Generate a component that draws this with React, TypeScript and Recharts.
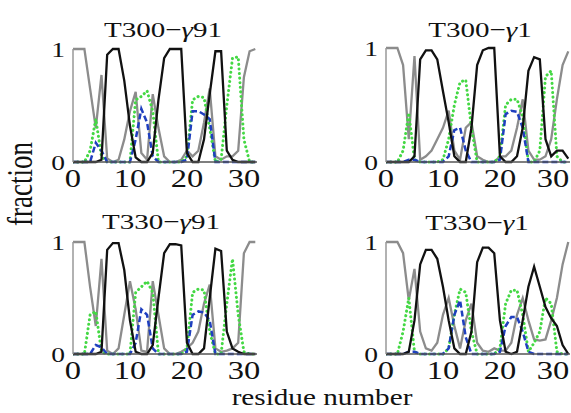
import { Line, LineChart, XAxis, YAxis } from "recharts";

// residue index along the chain
const RESIDUES = [
  0, 1, 2, 3, 4, 5, 6, 7, 8, 9, 10, 11, 12, 13, 14, 15, 16, 17, 18, 19, 20,
  21, 22, 23, 24, 25, 26, 27, 28, 29, 30, 31, 32,
];

const X_TICKS = [0, 10, 20, 30];
const Y_TICKS = [0, 1];

// T300-γ91
const P1_BLACK = [0, 0, 0, 0, 0, 0.02, 0.95, 1, 1, 0.72, 0.32, 0.04, 0, 0, 0.08, 0.55, 0.92, 1, 1, 1, 0.08, 0, 0, 0.2, 0.6, 0.98, 0.98, 0.1, 0.02, 0, 0, 0, 0];
const P1_GRAY = [1, 1, 1, 0.65, 0.3, 0.77, 0.03, 0, 0.02, 0.2, 0.45, 0.62, 0.08, 0.02, 0.6, 0.3, 0.05, 0, 0, 0.02, 0.1, 0.05, 0.1, 0.35, 0.65, 0.05, 0.02, 0.05, 0.05, 0.1, 0.75, 0.98, 1];
const P1_GREEN = [0, 0, 0, 0.1, 0.38, 0.05, 0, 0, 0, 0, 0, 0.55, 0.58, 0.63, 0.45, 0, 0, 0, 0, 0, 0.05, 0.55, 0.58, 0.57, 0.3, 0, 0.02, 0.5, 0.92, 0.93, 0.2, 0, 0];
const P1_BLUE = [0, 0, 0, 0, 0.17, 0.1, 0, 0, 0, 0, 0, 0.2, 0.47, 0.35, 0.05, 0, 0, 0, 0, 0, 0.02, 0.45, 0.45, 0.42, 0.38, 0, 0, 0, 0, 0, 0, 0, 0];

// T300-γ1
const P2_BLACK = [0, 0, 0, 0, 0, 0.05, 0.9, 0.98, 0.98, 0.9, 0.62, 0.35, 0.05, 0, 0, 0.3, 0.85, 0.98, 1, 1, 0.05, 0, 0, 0.05, 0.3, 0.8, 0.92, 0.9, 0.2, 0.05, 0.1, 0.1, 0.03];
const P2_GRAY = [1, 1, 1, 0.85, 0.2, 0.93, 0.02, 0.05, 0.1, 0.2, 0.3, 0.45, 0.1, 0.02, 0.3, 0.35, 0.05, 0.02, 0, 0, 0.05, 0.05, 0.1, 0.3, 0.55, 0.1, 0.02, 0.02, 0.05, 0.2, 0.55, 0.85, 0.97];
const P2_GREEN = [0, 0, 0, 0.1, 0.43, 0.02, 0, 0, 0, 0, 0.02, 0.2, 0.5, 0.7, 0.72, 0.3, 0, 0, 0, 0, 0.05, 0.5, 0.55, 0.55, 0.4, 0, 0, 0.1, 0.75, 0.8, 0.05, 0, 0];
const P2_BLUE = [0, 0, 0, 0, 0.02, 0.02, 0, 0, 0, 0, 0, 0.05, 0.28, 0.3, 0.1, 0, 0, 0, 0, 0, 0.02, 0.42, 0.45, 0.44, 0.3, 0, 0, 0, 0, 0, 0, 0, 0];

// T330-γ91
const P3_BLACK = [0, 0, 0, 0, 0, 0.02, 0.93, 0.99, 0.99, 0.75, 0.3, 0.02, 0, 0, 0.08, 0.5, 0.9, 0.98, 0.98, 0.97, 0.1, 0, 0, 0.05, 0.5, 0.94, 0.92, 0.2, 0.05, 0.02, 0, 0, 0];
const P3_GRAY = [1, 1, 1, 0.6, 0.25, 0.85, 0.03, 0, 0.05, 0.35, 0.65, 0.4, 0.03, 0.02, 0.65, 0.35, 0.05, 0, 0, 0.02, 0.05, 0.1, 0.2, 0.45, 0.62, 0.05, 0.02, 0.03, 0.05, 0.1, 0.9, 1, 1];
const P3_GREEN = [0, 0, 0, 0.35, 0.38, 0.02, 0, 0, 0, 0, 0, 0.55, 0.6, 0.65, 0.55, 0, 0, 0, 0, 0, 0.05, 0.55, 0.58, 0.57, 0.2, 0, 0, 0.45, 0.85, 0.35, 0.02, 0, 0];
const P3_BLUE = [0, 0, 0, 0, 0.08, 0.06, 0, 0, 0, 0, 0, 0.1, 0.4, 0.35, 0.05, 0, 0, 0, 0, 0, 0.02, 0.35, 0.38, 0.37, 0.3, 0, 0, 0, 0, 0, 0, 0, 0];

// T330-γ1
const P4_BLACK = [0, 0, 0, 0, 0.02, 0.3, 0.8, 0.93, 0.93, 0.85, 0.6, 0.3, 0.05, 0, 0, 0.2, 0.82, 0.95, 0.95, 0.9, 0.3, 0.02, 0, 0.02, 0.3, 0.6, 0.78, 0.6, 0.42, 0.32, 0.25, 0.08, 0];
const P4_GRAY = [1, 1, 1, 0.9, 0.48, 0.76, 0.2, 0.05, 0.03, 0.1, 0.35, 0.5, 0.25, 0.05, 0.3, 0.45, 0.1, 0.03, 0.02, 0.05, 0.03, 0.03, 0.1, 0.35, 0.5, 0.3, 0.13, 0.12, 0.13, 0.3, 0.5, 0.8, 1];
const P4_GREEN = [0, 0, 0, 0.2, 0.5, 0.02, 0, 0, 0, 0, 0, 0.05, 0.35, 0.58, 0.55, 0.2, 0, 0, 0, 0, 0.05, 0.45, 0.57, 0.57, 0.35, 0.02, 0.1, 0.2, 0.5, 0.45, 0.02, 0, 0];
const P4_BLUE = [0, 0, 0, 0, 0.02, 0.02, 0, 0, 0, 0, 0, 0.05, 0.35, 0.48, 0.15, 0, 0, 0, 0, 0, 0.02, 0.25, 0.33, 0.33, 0.2, 0.02, 0, 0, 0, 0, 0, 0, 0];

const TITLES = [
  ["T300−", "γ", "91"],
  ["T300−", "γ", "1"],
  ["T330−", "γ", "91"],
  ["T330−", "γ", "1"],
];

const SERIES = [
  [P1_BLACK, P1_GRAY, P1_GREEN, P1_BLUE],
  [P2_BLACK, P2_GRAY, P2_GREEN, P2_BLUE],
  [P3_BLACK, P3_GRAY, P3_GREEN, P3_BLUE],
  [P4_BLACK, P4_GRAY, P4_GREEN, P4_BLUE],
];

// chart box position + plot top/height, title centre, right limit for tick text
const LAYOUT = [
  { left: 0, top: 0, plotTop: 49, plotH: 113, tx: 163, ty: 37, maxTick: 999 },
  { left: 313, top: 0, plotTop: 48, plotH: 114, tx: 480, ty: 37, maxTick: 240 },
  { left: 0, top: 193, plotTop: 49, plotH: 112, tx: 161, ty: 229, maxTick: 999 },
  { left: 313, top: 193, plotTop: 49, plotH: 112, tx: 477, ty: 230, maxTick: 240 },
];

const FONT = "'Liberation Serif', 'Times New Roman', serif";
const STRETCH = 1.25; // the picture is wider than it is tall

const makeXTick = (maxX: number) => ({ x, y, payload }: any) => (
  <text
    transform={`translate(${Math.min(x, maxX)},${y + 17}) scale(${STRETCH},1)`}
    textAnchor="middle"
    fontSize={26}
    fontFamily={FONT}
    fill="#111"
  >
    {payload.value}
  </text>
);

const YTick = ({ x, y, payload }: any) => (
  <text
    transform={`translate(${x},${y + 8}) scale(${STRETCH},1)`}
    textAnchor="end"
    fontSize={22}
    fontFamily={FONT}
    fill="#111"
  >
    {payload.value}
  </text>
);

function Panel({ idx }: { idx: number }) {
  const L = LAYOUT[idx];
  const [black, gray, green, blue] = SERIES[idx];
  const data = RESIDUES.map((k, i) => ({ k, black: black[i], gray: gray[i], green: green[i], blue: blue[i] }));
  const H = 200;
  return (
    <div style={{ position: "absolute", left: L.left, top: L.top }}>
      <LineChart
        width={290}
        height={H}
        data={data}
        margin={{ top: L.plotTop, right: 33, left: 43, bottom: H - L.plotTop - L.plotH - 30 }}
      >
        <XAxis
          type="number"
          dataKey="k"
          domain={[0, 32.3]}
          ticks={X_TICKS}
          interval={0}
          height={30}
          tickLine={false}
          axisLine={{ stroke: "#555", strokeWidth: 1.5 }}
          tick={makeXTick(L.maxTick)}
          allowDataOverflow
        />
        <YAxis
          type="number"
          domain={[0, 1]}
          ticks={Y_TICKS}
          interval={0}
          width={30}
          tickLine={false}
          axisLine={{ stroke: "#999", strokeWidth: 1.5 }}
          tick={YTick}
        />
        <Line dataKey="gray" type="linear" stroke="#8c8c8c" strokeWidth={2.3} dot={false} activeDot={false} isAnimationActive={false} />
        <Line dataKey="green" type="linear" stroke="#44d844" strokeWidth={3} strokeDasharray="0.1 4.5" strokeLinecap="round" dot={false} activeDot={false} isAnimationActive={false} />
        <Line dataKey="blue" type="linear" stroke="#1f3fbf" strokeWidth={2.5} strokeDasharray="6 3" dot={false} activeDot={false} isAnimationActive={false} />
        <Line dataKey="black" type="linear" stroke="#111" strokeWidth={2.3} dot={false} activeDot={false} isAnimationActive={false} />
      </LineChart>
    </div>
  );
}

export default function App() {
  return (
    <div style={{ position: "absolute", left: 0, top: 0, width: 571, height: 413, background: "#fff", overflow: "hidden" }}>
      {LAYOUT.map((_, i) => (
        <Panel key={i} idx={i} />
      ))}
      <svg width={571} height={413} style={{ position: "absolute", left: 0, top: 0, pointerEvents: "none" }}>
        {LAYOUT.map((L, i) => (
          <text
            key={i}
            transform={`translate(${L.tx},${L.ty}) scale(1.32,1)`}
            textAnchor="middle"
            fontSize={22}
            fontFamily={FONT}
            fill="#111"
          >
            {TITLES[i][0]}
            <tspan fontStyle="italic">{TITLES[i][1]}</tspan>
            {TITLES[i][2]}
          </text>
        ))}
        <text transform="translate(322,405) scale(1.27,1)" textAnchor="middle" fontSize={23} fontFamily={FONT} fill="#111">
          residue number
        </text>
        <text transform="translate(32,184) rotate(-90) scale(1,1.3)" textAnchor="middle" fontSize={27} fontFamily={FONT} fill="#111">
          fraction
        </text>
      </svg>
    </div>
  );
}
